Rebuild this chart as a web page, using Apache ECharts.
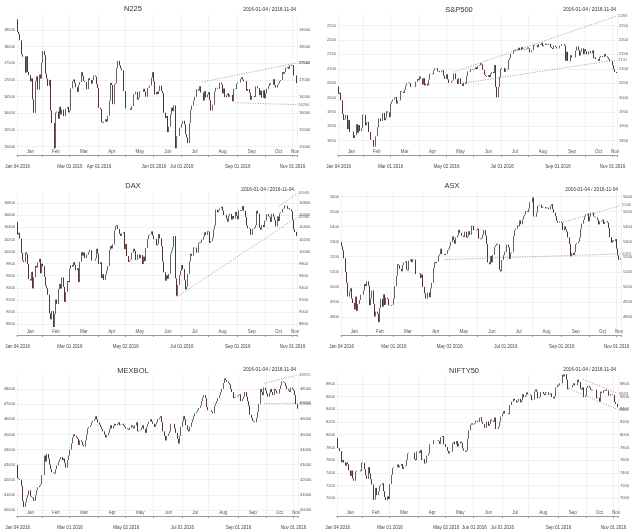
<!DOCTYPE html>
<html>
<head>
<meta charset="utf-8">
<script src="https://cdn.jsdelivr.net/npm/echarts@6/dist/echarts.min.js"></script>
<style>html,body{margin:0;background:#fff}#main{width:640px;height:532px}</style>
</head>
<body>
<div id="main"></div>
<script>
// trading calendar (weekdays 2016-01-04 .. 2016-11-04)
var days = [];
(function () {
  var d = new Date(Date.UTC(2016, 0, 4)), end = Date.UTC(2016, 10, 4);
  while (d.getTime() <= end) {
    var wd = d.getUTCDay();
    if (wd > 0 && wd < 6) days.push(d.toISOString().slice(0, 10));
    d.setUTCDate(d.getUTCDate() + 1);
  }
})();

// daily closes, one row per week (Mon..Fri)
var n225Open0 = 18818;
var n225Close = [
  18451, 18374, 18191, 17767, 17698,  17698, 17219, 17716, 17240, 17147,
  16956, 17048, 16417, 16017, 16959,  17110, 16709, 17164, 17041, 17518,
  17866, 17750, 17192, 17045, 16820,  17004, 16085, 15713, 15713, 14953,
  16022, 16054, 15837, 16196, 15967,  16111, 15916, 15916, 16140, 16188,
  16027, 16085, 16747, 16960, 17015,  16912, 16784, 16643, 16852, 16939,
  17233, 17117, 16974, 16937, 16725,  16725, 17049, 17001, 16892, 17003,
  17135, 17104, 16879, 16759, 16164,  16123, 15733, 15715, 15750, 15822,
  15751, 15929, 16381, 16912, 16849,  16275, 16874, 16907, 17364, 17572,
  17440, 17353, 17291, 16666, 16666,  16148, 16148, 16148, 16148, 16106,
  16216, 16565, 16580, 16646, 16412,  16467, 16653, 16645, 16647, 16736,
  16655, 16499, 16757, 16773, 16835,  17069, 17235, 16955, 16563, 16642,
  16580, 16676, 16831, 16669, 16602,  16019, 15859, 15920, 15434, 15600,
  15966, 16170, 16066, 16239, 14952,  15310, 15324, 15567, 15576, 15682,
  15776, 15670, 15379, 15277, 15107,  15709, 16096, 16231, 16386, 16498,
  16498, 16724, 16682, 16811, 16628,  16620, 16384, 16665, 16477, 16569,
  16636, 16392, 16084, 16255, 16254,  16651, 16765, 16736, 16736, 16920,
  16870, 16597, 16746, 16487, 16546,  16598, 16498, 16556, 16556, 16361,
  16738, 16726, 16887, 16927, 16926,  17038, 17082, 17012, 16959, 16965,
  16673, 16730, 16615, 16406, 16519,  16519, 16492, 16808, 16808, 16754,
  16545, 16683, 16466, 16694, 16450,  16599, 16736, 16820, 16900, 16860,
  16860, 17025, 16840, 16774, 16856,  16900, 16963, 16999, 17235, 17185,
  17235, 17366, 17392, 17337, 17446,  17425, 17443, 17135, 17135, 16905
];

var spxOpen0 = 2038;
var spxClose = [
  2013, 2017, 1990, 1943, 1922,  1924, 1939, 1890, 1922, 1880,
  1880, 1881, 1859, 1869, 1907,  1877, 1904, 1883, 1893, 1940,
  1939, 1903, 1913, 1915, 1880,  1853, 1852, 1852, 1829, 1865,
  1865, 1896, 1927, 1918, 1918,  1946, 1921, 1930, 1952, 1948,
  1932, 1978, 1986, 1993, 2000,  2002, 1979, 1989, 1990, 2022,
  2020, 2016, 2027, 2041, 2050,  2052, 2050, 2037, 2036, 2036,
  2037, 2055, 2064, 2060, 2073,  2066, 2045, 2067, 2042, 2048,
  2042, 2062, 2082, 2083, 2081,  2094, 2101, 2102, 2091, 2092,
  2088, 2092, 2095, 2076, 2065,  2081, 2063, 2051, 2051, 2057,
  2059, 2084, 2064, 2064, 2047,  2067, 2047, 2048, 2040, 2052,
  2048, 2076, 2091, 2090, 2099,  2099, 2097, 2099, 2105, 2099,
  2109, 2112, 2119, 2115, 2096,  2079, 2075, 2072, 2078, 2071,
  2083, 2089, 2085, 2113, 2037,  2001, 2036, 2071, 2099, 2103,
  2103, 2089, 2100, 2098, 2130,  2137, 2152, 2152, 2164, 2162,
  2167, 2164, 2173, 2165, 2175,  2168, 2169, 2167, 2170, 2174,
  2171, 2157, 2164, 2164, 2183,  2181, 2182, 2175, 2186, 2184,
  2190, 2178, 2182, 2187, 2184,  2183, 2187, 2175, 2172, 2169,
  2180, 2176, 2171, 2171, 2180,  2180, 2186, 2186, 2181, 2128,
  2159, 2127, 2126, 2147, 2139,  2139, 2140, 2163, 2177, 2165,
  2146, 2160, 2171, 2151, 2168,  2161, 2150, 2160, 2161, 2154,
  2164, 2137, 2139, 2133, 2133,  2127, 2140, 2144, 2141, 2141,
  2151, 2143, 2139, 2133, 2126,  2126, 2112, 2098, 2089, 2085
];

var daxOpen0 = 10486;
var daxClose = [
  10283, 10310, 10214, 9979, 9849,  9825, 9985, 9960, 9794, 9545,
  9521, 9664, 9391, 9574, 9764,  9736, 9822, 9880, 9640, 9798,
  9757, 9581, 9434, 9393, 9286,  8979, 8879, 9017, 8752, 8967,
  9206, 9135, 9377, 9463, 9388,  9573, 9416, 9167, 9331, 9513,
  9495, 9717, 9777, 9752, 9824,  9778, 9692, 9723, 9498, 9831,
  9990, 9933, 9984, 9892, 9950,  9948, 9990, 10022, 9851, 9851,
  9851, 9887, 10046, 9966, 9794,  9822, 9563, 9624, 9530, 9622,
  9682, 9761, 10027, 10094, 10051,  10120, 10350, 10421, 10435, 10373,
  10294, 10259, 10300, 10321, 10039,  10123, 9926, 9829, 9852, 9870,
  9980, 10045, 10010, 9862, 9952,  9952, 9890, 9943, 9795, 9916,
  9842, 10057, 10205, 10272, 10287,  10333, 10263, 10205, 10208, 10103,
  10121, 10288, 10217, 10089, 9834,  9657, 9519, 9607, 9550, 9631,
  9962, 10015, 10071, 10257, 9557,  9269, 9448, 9612, 9680, 9777,
  9709, 9532, 9373, 9418, 9629,  9834, 9964, 9930, 10068, 10066,
  10063, 9981, 10142, 10156, 10147,  10198, 10247, 10319, 10275, 10337,
  10330, 10144, 10170, 10228, 10367,  10432, 10692, 10650, 10682, 10713,
  10740, 10676, 10603, 10603, 10544,  10495, 10593, 10623, 10529, 10588,
  10545, 10657, 10593, 10534, 10684,  10672, 10687, 10752, 10675, 10573,
  10431, 10386, 10379, 10277, 10276,  10373, 10394, 10436, 10674, 10626,
  10394, 10362, 10438, 10405, 10511,  10511, 10619, 10585, 10568, 10490,
  10624, 10577, 10523, 10414, 10580,  10504, 10631, 10646, 10701, 10711,
  10761, 10757, 10709, 10717, 10696,  10665, 10526, 10370, 10325, 10259
];

var asxOpen0 = 5296;
var asxClose = [
  5270, 5243, 5190, 5099, 5027,  4936, 4970, 4990, 4922, 4893,
  4850, 4935, 4840, 4886, 4912,  4947, 4947, 4976, 5019, 5005,
  5036, 5008, 4878, 4922, 4976,  4887, 4803, 4835, 4821, 4765,
  4858, 4920, 4868, 4950, 4880,  4928, 4920, 4877, 4875, 4880,
  4882, 4922, 5005, 5074, 5150,  5143, 5120, 5103, 5146, 5162,
  5169, 5116, 5109, 5174, 5183,  5164, 5183, 5181, 5085, 5085,
  5085, 5089, 5059, 5082, 4999,  4957, 4922, 4923, 4962, 4931,
  4990, 5027, 5124, 5163, 5157,  5167, 5208, 5217, 5253, 5218,
  5218, 5211, 5220, 5243, 5252,  5271, 5297, 5335, 5311, 5286,
  5328, 5341, 5379, 5360, 5340,  5339, 5331, 5366, 5327, 5335,
  5369, 5346, 5406, 5404, 5377,  5375, 5378, 5387, 5320, 5316,
  5324, 5346, 5377, 5342, 5283,  5163, 5150, 5204, 5162, 5212,
  5265, 5275, 5286, 5281, 5113,  5103, 5178, 5210, 5233, 5232,
  5280, 5263, 5185, 5225, 5230,  5336, 5374, 5386, 5407, 5402,
  5441, 5416, 5447, 5469, 5479,  5503, 5497, 5520, 5562, 5562,
  5593, 5469, 5466, 5493, 5537,  5540, 5545, 5524, 5532, 5530,
  5521, 5527, 5525, 5515, 5540,  5549, 5517, 5493, 5468, 5438,
  5426, 5433, 5433, 5425, 5376,  5401, 5382, 5367, 5328, 5284,
  5203, 5225, 5212, 5230, 5283,  5290, 5300, 5327, 5386, 5420,
  5444, 5467, 5482, 5487, 5435,  5466, 5490, 5492, 5468, 5465,
  5461, 5445, 5415, 5433, 5438,  5446, 5418, 5432, 5435, 5427,
  5390, 5330, 5294, 5309, 5303,  5317, 5254, 5209, 5180, 5187
];

var mexOpen0 = 42978;
var mexClose = [
  42100, 42050, 42000, 41600, 40600,  40200, 40500, 40800, 41000, 41300,
  40900, 40850, 40800, 40600, 41000,  41300, 41500, 41600, 41700, 42300,
  42300, 43600, 43200, 43700, 43400,  43000, 42700, 42500, 42450, 42400,
  42700, 42950, 43200, 43350, 43500,  43300, 43400, 43100, 42800, 43300,
  43600, 44000, 44400, 44800, 45000,  44900, 44800, 44700, 44300, 44600,
  44500, 44300, 44200, 44600, 45000,  45400, 45500, 45600, 45800, 45900,
  46000, 46200, 46000, 45800, 45650,  45500, 45350, 45200, 45000, 44800,
  44950, 45100, 45350, 45600, 45400,  45550, 45700, 45600, 45700, 45800,
  45600, 45650, 45700, 45600, 45500,  45400, 45350, 45300, 45450, 45600,
  45500, 45400, 45600, 45800, 45200,  45250, 45300, 45450, 45600, 45350,
  45100, 45500, 45700, 45850, 46000,  45850, 45700, 45500, 45650, 45800,
  46000, 46100, 46200, 45800, 45200,  44900, 44600, 44900, 45050, 45200,
  45700, 45700, 45700, 45400, 45100,  44700, 44400, 44900, 45500, 45850,
  46200, 46000, 45600, 45300, 45200,  45500, 45800, 46000, 46200, 46400,
  46500, 46600, 46750, 46900, 47200,  47450, 47600, 47400, 46800, 46600,
  46600, 46600, 46500, 46400, 46900,  47050, 47200, 47400, 47600, 47800,
  48000, 48400, 48700, 48600, 48500,  48400, 48300, 48000, 47800, 47400,
  47450, 47500, 47550, 47600, 47650,  47200, 47350, 47500, 47800, 47500,
  47200, 46900, 46300, 46100, 45900,  45850, 45800, 46100, 46500, 47000,
  48000, 47800, 47600, 48100, 47900,  47700, 47500, 47750, 48000, 47800,
  47600, 48000, 47900, 47750, 47700,  48000, 48250, 48500, 48450, 48400,
  48200, 48000, 47900, 47800, 48100,  48000, 47900, 47600, 47000, 46700
];

var niftyOpen0 = 7946;
var niftyClose = [
  7791, 7784, 7741, 7568, 7601,  7563, 7510, 7562, 7537, 7438,
  7351, 7436, 7309, 7276, 7422,  7436, 7436, 7437, 7424, 7563,
  7555, 7455, 7361, 7305, 7489,  7387, 7298, 7216, 6976, 6981,
  7163, 7048, 7109, 7192, 7211,  7235, 7109, 7018, 6970, 7029,
  6987, 7222, 7368, 7475, 7485,  7485, 7486, 7531, 7486, 7510,
  7538, 7461, 7498, 7512, 7604,  7704, 7714, 7716, 7716, 7716,
  7615, 7597, 7735, 7738, 7713,  7758, 7603, 7614, 7546, 7555,
  7671, 7708, 7850, 7850, 7850,  7914, 7914, 7912, 7915, 7899,
  7855, 7962, 7979, 7847, 7850,  7805, 7747, 7706, 7735, 7733,
  7866, 7887, 7848, 7900, 7814,  7860, 7890, 7870, 7783, 7749,
  7731, 7748, 7935, 8069, 8157,  8178, 8160, 8179, 8218, 8220,
  8201, 8266, 8273, 8203, 8170,  8110, 8108, 8206, 8140, 8170,
  8238, 8219, 8203, 8270, 8089,  8094, 8127, 8204, 8288, 8328,
  8371, 8335, 8335, 8337, 8323,  8467, 8521, 8519, 8565, 8541,
  8508, 8528, 8565, 8510, 8541,  8636, 8590, 8615, 8666, 8638,
  8636, 8622, 8544, 8551, 8683,  8711, 8678, 8575, 8592, 8672,
  8672, 8642, 8624, 8673, 8667,  8629, 8632, 8650, 8592, 8573,
  8607, 8744, 8786, 8775, 8809,  8809, 8943, 8917, 8952, 8867,
  8715, 8726, 8742, 8743, 8780,  8808, 8775, 8777, 8867, 8831,
  8723, 8706, 8745, 8591, 8611,  8738, 8769, 8743, 8709, 8697,
  8708, 8708, 8708, 8573, 8583,  8520, 8677, 8659, 8699, 8693,
  8708, 8691, 8615, 8615, 8638,  8626, 8626, 8514, 8484, 8433
];

// y tick labels
var n225Ticks = [15000, 15500, 16000, 16500, 17000, 17500, 18000, 18500];
var spxTicks = [1850, 1900, 1950, 2000, 2050, 2100, 2150, 2200, 2250];
var daxTicks = [8800, 9000, 9200, 9400, 9600, 9800, 10000, 10200, 10400, 10600, 10800];
var asxTicks = [4800, 4900, 5000, 5100, 5200, 5300, 5400, 5500, 5600];
var mexTicks = [40000, 41000, 42000, 43000, 44000, 45000, 46000, 47000, 48000];
var niftyTicks = [7000, 7200, 7400, 7600, 7800, 8000, 8200, 8400, 8600, 8800];

// dotted trend lines: [from date, from value, to date, to value]
var n225Trend = [['2016-07-25', 16940, '2016-11-04', 17510], ['2016-08-30', 16320, '2016-11-04', 16260]];
var spxTrend = [['2016-05-10', 2089, '2016-11-04', 2283], ['2016-05-23', 2051, '2016-11-04', 2131]];
var daxTrend = [['2016-06-27', 9250, '2016-11-04', 10560], ['2016-10-17', 10746, '2016-11-04', 10949]];
var asxTrend = [['2016-09-02', 5429, '2016-11-04', 5540], ['2016-04-26', 5181, '2016-11-04', 5219]];
var mexTrend = [['2016-09-29', 48375, '2016-11-04', 48925], ['2016-09-29', 47053, '2016-11-04', 47053]];
var niftyTrend = [['2016-09-28', 8873, '2016-11-04', 8653], ['2016-09-15', 8705, '2016-11-04', 8401]];

// bottom date labels
var dateLabelsA = ['2016-01-04', '2016-03-01', '2016-04-01', '2016-06-01', '2016-07-01', '2016-09-01', '2016-11-01'];
var dateLabelsB = ['2016-01-04', '2016-03-01', '2016-05-02', '2016-07-01', '2016-09-01', '2016-11-01'];
var dateLabelsC = ['2016-01-04', '2016-03-01', '2016-05-02', '2016-06-01', '2016-07-01', '2016-09-01', '2016-11-01'];

var MON = ['Jan', 'Feb', 'Mar', 'Apr', 'May', 'Jun', 'Jul', 'Aug', 'Sep', 'Oct', 'Nov', 'Dec'];

var panels = [
  { name: 'N225', close: n225Close, open0: n225Open0, ticks: n225Ticks, trend: n225Trend, dates: dateLabelsA,
    left: 17, top: 15, width: 280, height: 140, min: 14750, max: 18950, sub: 50, tx: 133, ty: 9, rx: 296, ry: 10 },
  { name: 'S&P500', close: spxClose, open0: spxOpen0, ticks: spxTicks, trend: spxTrend, dates: dateLabelsB,
    left: 338, top: 15, width: 279, height: 140, min: 1800, max: 2287, sub: 5, tx: 459, ty: 10, rx: 616, ry: 10 },
  { name: 'DAX', close: daxClose, open0: daxOpen0, ticks: daxTicks, trend: daxTrend, dates: dateLabelsB,
    left: 17, top: 192, width: 280, height: 143, min: 8620, max: 10985, sub: 20, tx: 133, ty: 186, rx: 294, ry: 190 },
  { name: 'ASX', close: asxClose, open0: asxOpen0, ticks: asxTicks, trend: asxTrend, dates: dateLabelsB,
    left: 341, top: 192, width: 280, height: 143, min: 4680, max: 5630, sub: 10, tx: 452, ty: 186, rx: 618, ry: 190 },
  { name: 'MEXBOL', close: mexClose, open0: mexOpen0, ticks: mexTicks, trend: mexTrend, dates: dateLabelsB,
    left: 17, top: 375, width: 281, height: 141, min: 39600, max: 48930, sub: 100, tx: 133, ty: 371, rx: 296, ry: 370 },
  { name: 'NIFTY50', close: niftyClose, open0: niftyOpen0, ticks: niftyTicks, trend: niftyTrend, dates: dateLabelsC,
    left: 337, top: 375, width: 281, height: 141, min: 6720, max: 8940, sub: 20, tx: 464, ty: 371, rx: 616, ry: 370 }
];

// month starts / mid-month positions
var monthStart = {}, monthMid = {};
var starts = [];
days.forEach(function (d, i) {
  if (i === 0 || d.slice(5, 7) !== days[i - 1].slice(5, 7)) starts.push(i);
});
starts.forEach(function (s, k) {
  var e = k + 1 < starts.length ? starts[k + 1] : days.length;
  monthStart[s] = true;
  monthMid[Math.floor((s + e) / 2)] = true;
});

function fmtDate(v) {
  return MON[+v.slice(5, 7) - 1] + ' ' + v.slice(8, 10) + ' ' + v.slice(0, 4);
}

function candles(close, open0) {
  return close.map(function (c, i) {
    var o = i ? close[i - 1] : open0;
    return [o, c, Math.min(o, c), Math.max(o, c)];
  });
}

var FONT = 'Liberation Sans';
var grid = [], xAxis = [], yAxis = [], series = [], graphic = [];

panels.forEach(function (p, i) {
  grid.push({ left: p.left, top: p.top, width: p.width, height: p.height, containLabel: false, outerBoundsMode: 'none' });

  var tickSet = {};
  p.ticks.forEach(function (t) { tickSet[t] = true; });
  var dateSet = {};
  p.dates.forEach(function (d) { dateSet[d] = true; });

  xAxis.push({
    type: 'category', gridIndex: i, data: days, boundaryGap: true, position: 'bottom',
    axisLine: { lineStyle: { color: '#9a9a9a', width: 1.2 } },
    axisTick: { show: true, length: 2, interval: function (idx) { return !!monthStart[idx]; }, lineStyle: { color: '#9a9a9a' } },
    axisLabel: { interval: function (idx, val) { return !!dateSet[val]; }, formatter: fmtDate,
      fontSize: 4.5, color: '#444', margin: 9, fontFamily: FONT },
    splitLine: { show: true, interval: function (idx) { return !!monthStart[idx]; }, lineStyle: { color: '#e8e8e8', width: 0.6 } }
  });
  xAxis.push({
    type: 'category', gridIndex: i, data: days, boundaryGap: true, position: 'bottom',
    axisLine: { show: false }, axisTick: { show: false }, splitLine: { show: false },
    axisLabel: { inside: true, margin: 1, interval: function (idx) { return !!monthMid[idx]; },
      formatter: function (v) { return MON[+v.slice(5, 7) - 1]; },
      fontSize: 4.5, color: '#555', fontFamily: FONT }
  });

  var yLab = function (v) { return tickSet[Math.round(v)] ? String(Math.round(v)) : ''; };
  yAxis.push({
    type: 'value', gridIndex: i, position: 'left', min: p.min, max: p.max, interval: p.sub,
    axisLine: { show: false }, axisTick: { show: false }, splitLine: { show: false },
    axisLabel: { formatter: yLab, fontSize: 4, color: '#555', margin: 2, fontFamily: FONT }
  });
  yAxis.push({
    type: 'value', gridIndex: i, position: 'right', min: p.min, max: p.max, interval: p.sub,
    axisLine: { show: false }, axisTick: { show: false }, splitLine: { show: false },
    axisLabel: { formatter: yLab, fontSize: 4, color: '#555', margin: 2, fontFamily: FONT }
  });

  // horizontal grid lines at the tick labels
  series.push({
    type: 'line', xAxisIndex: 2 * i, yAxisIndex: 2 * i, data: [], silent: true, z: 1,
    markLine: {
      silent: true, z: 1, animation: false, symbol: ['none', 'none'], label: { show: false },
      lineStyle: { type: 'solid', color: '#e8e8e8', width: 0.6 },
      emphasis: { disabled: true },
      data: p.ticks.map(function (v) { return { yAxis: v }; })
    }
  });

  series.push({
    type: 'candlestick', name: p.name, xAxisIndex: 2 * i, yAxisIndex: 2 * i, z: 3,
    barWidth: '95%', silent: true,
    data: candles(p.close, p.open0),
    itemStyle: { color: '#9c9c9c', color0: '#d00000', borderColor: '#3c3c3c', borderColor0: '#2a0000', borderWidth: 0.8 },
    markLine: {
      silent: true, z: 6, animation: false, symbol: ['none', 'none'],
      lineStyle: { type: [1, 1.5], color: '#777', width: 0.7 },
      label: { show: true, position: 'end', distance: 2, fontSize: 4, color: '#6b5b95', fontFamily: FONT },
      emphasis: { disabled: true },
      data: p.trend.map(function (t) {
        return [{ coord: [t[0], t[1]], label: { formatter: String(t[3]) } }, { coord: [t[2], t[3]] }];
      })
    }
  });

  graphic.push({ type: 'text', x: p.tx, y: p.ty, silent: true,
    style: { text: p.name, font: '7.5px "' + FONT + '"', fill: '#333', textAlign: 'center', textVerticalAlign: 'middle' } });
  graphic.push({ type: 'text', x: p.rx, y: p.ry, silent: true,
    style: { text: '2016-01-04 / 2016-11-04', font: '4.8px "' + FONT + '"', fill: '#333', textAlign: 'right', textVerticalAlign: 'middle' } });
});

var chart = echarts.init(document.getElementById('main'));
chart.setOption({
  animation: false,
  backgroundColor: '#fff',
  textStyle: { fontFamily: FONT },
  grid: grid,
  xAxis: xAxis,
  yAxis: yAxis,
  series: series,
  graphic: graphic
});
</script>
</body>
</html>
